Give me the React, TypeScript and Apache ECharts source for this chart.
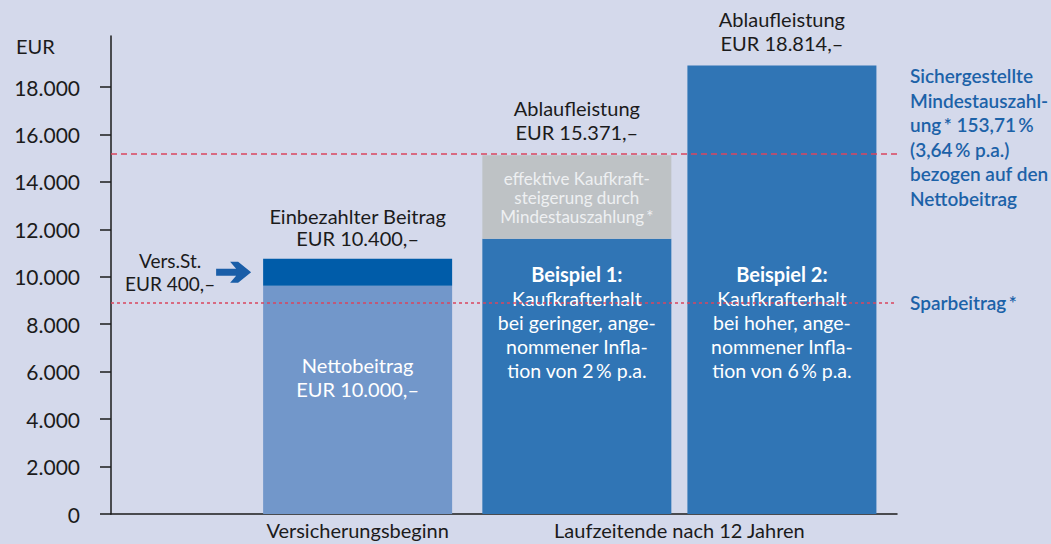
import { useEffect, useRef } from 'react';
import * as echarts from 'echarts';

// ---- data ----
const categories = ['Versicherungsbeginn', 'Laufzeitende nach 12 Jahren'];
const yTicks = [0, 2000, 4000, 6000, 8000, 10000, 12000, 14000, 16000, 18000];
const yMax = 20150;
const nettoBeitrag: (number | string)[] = [9620, '-'];
const versSt: (number | string)[] = [1140, '-'];
const beispiel1Basis: (number | string)[] = ['-', 11600];
const beispiel1Steigerung: (number | string)[] = ['-', 3520];
const beispiel1Top: (number | string)[] = ['-', 0];
const beispiel2: (number | string)[] = ['-', 18910];
const beispiel2Top: (number | string)[] = ['-', 0];
const sparbeitrag = 8910;
const mindestauszahlung = 15170;

const nettoText = ['Nettobeitrag', 'EUR 10.000,–'];
const einbezahltText = ['Einbezahlter Beitrag', 'EUR 10.400,–'];
const versStText = ['Vers.St.', 'EUR 400,–'];
const steigerungText = ['effektive Kaufkraft-', 'steigerung durch', 'Mindestauszahlung\u2009*'];
const ablauf1Text = ['Ablaufleistung', 'EUR 15.371,–'];
const ablauf2Text = ['Ablaufleistung', 'EUR 18.814,–'];
const beispiel1Text = ['Beispiel 1:', 'Kaufkrafterhalt', 'bei geringer, ange-', 'nommener Infla-', 'tion von 2\u2009% p.a.'];
const beispiel2Text = ['Beispiel 2:', 'Kaufkrafterhalt', 'bei hoher, ange-', 'nommener Infla-', 'tion von 6\u2009% p.a.'];
const mindestText = ['Sichergestellte', 'Mindestauszahl-', 'ung\u2009* 153,71\u2009%', '(3,64\u2009% p.a.)', 'bezogen auf den', 'Nettobeitrag'];
const sparText = 'Sparbeitrag\u2009*';

// ---- styles ----
const FONT = 'Lato, "Open Sans", sans-serif';
const BG = '#d4d9eb';
const INK = '#1b1b1b';
const RED = '#d9455f';
const NOTE_BLUE = '#1c62a8';
const LIGHT_BLUE = '#7297ca';
const DARK_BLUE = '#005ca9';
const BAR_BLUE = '#3075b5';
const GREY = '#bec2c5';
const BAR_W = 189;
const TOP = 36;
const BOTTOM = 30;

const fmt = (v: number) => String(v).replace(/\B(?=(\d{3})+(?!\d))/g, '.');

const beispielLabel = (lines: string[]) => ({
  show: true,
  position: 'insideBottom',
  distance: 132,
  formatter: `{b|${lines[0]}}\n` + lines.slice(1).map((l) => `{t|${l}}`).join('\n'),
  rich: {
    b: { fontFamily: FONT, fontSize: 20, fontWeight: 'bold', color: '#ffffff', lineHeight: 24 },
    t: { fontFamily: FONT, fontSize: 19.5, color: '#ffffff', lineHeight: 24 },
  },
});

const topLabel = (lines: string[], lh: number, dist: number) => ({
  show: true,
  position: 'top',
  distance: dist,
  formatter: lines.join('\n'),
  fontFamily: FONT,
  fontSize: 20,
  lineHeight: lh,
  color: INK,
});

const noteStyle = { fontFamily: FONT, fontSize: 19, fontWeight: 600, color: NOTE_BLUE, lineHeight: 24.5 };

export default function App() {
  const ref = useRef<HTMLDivElement>(null);
  useEffect(() => {
    const chart = echarts.init(ref.current!, null, { renderer: 'svg' });
    const option: any = {
      animation: false,
      backgroundColor: BG,
      textStyle: { fontFamily: FONT },
      title: {
        text: 'EUR',
        left: 11,
        top: 31,
        textStyle: { fontFamily: FONT, fontSize: 20, fontWeight: 'normal', color: INK },
      },
      grid: [
        { left: 111, right: 154, top: TOP, bottom: BOTTOM },
        { left: 196.75, right: 210.75, top: TOP, bottom: BOTTOM },
      ],
      xAxis: [
        {
          gridIndex: 0,
          type: 'category',
          data: [''],
          axisLine: { lineStyle: { color: INK, width: 1.5 } },
          axisTick: { show: false },
          axisLabel: { show: false },
        },
        {
          gridIndex: 1,
          type: 'category',
          data: categories,
          axisLine: { show: false },
          axisTick: { show: false },
          axisLabel: { interval: 0, fontFamily: FONT, fontSize: 20, color: INK, margin: 6 },
        },
        { gridIndex: 1, type: 'category', data: categories, show: false },
      ],
      yAxis: [
        {
          gridIndex: 0,
          type: 'value',
          min: 0,
          max: yMax,
          axisLine: { show: true, lineStyle: { color: INK, width: 1.5 } },
          axisTick: { show: true, length: 11, customValues: yTicks, lineStyle: { color: INK, width: 1.5 } },
          axisLabel: { customValues: yTicks, formatter: (v: number) => fmt(v), margin: 31, fontFamily: FONT, fontSize: 21, color: INK },
          splitLine: { show: false },
        },
        { gridIndex: 1, type: 'value', min: 0, max: yMax, show: false },
      ],
      series: [
        {
          type: 'line',
          xAxisIndex: 0,
          yAxisIndex: 0,
          data: [],
          z: 1,
          silent: true,
          markLine: {
            silent: true,
            symbol: ['none', 'none'],
            data: [
              {
                yAxis: sparbeitrag,
                lineStyle: { color: RED, width: 1.5, type: [3, 3] },
                label: { show: true, position: 'end', distance: 13, formatter: sparText, ...noteStyle },
              },
              {
                yAxis: mindestauszahlung,
                lineStyle: { color: RED, width: 1.5, type: [6, 4] },
                label: {
                  show: true,
                  position: 'end',
                  distance: 13,
                  align: 'left',
                  formatter: mindestText.map((l) => `{n|${l}}`).join('\n') + '\n{s| }',
                  rich: {
                    n: noteStyle,
                    s: { fontSize: 10, lineHeight: 34 },
                  },
                },
              },
            ],
          },
        },
        {
          name: 'Nettobeitrag',
          type: 'bar',
          xAxisIndex: 1,
          yAxisIndex: 1,
          stack: 'start',
          barWidth: BAR_W,
          clip: false,
          data: nettoBeitrag,
          itemStyle: { color: LIGHT_BLUE },
          label: { show: true, position: 'insideBottom', distance: 113, formatter: nettoText.join('\n'), color: '#ffffff', fontFamily: FONT, fontSize: 20, lineHeight: 24 },
        },
        {
          name: 'Vers.St.',
          type: 'bar',
          xAxisIndex: 1,
          yAxisIndex: 1,
          stack: 'start',
          barWidth: BAR_W,
          clip: false,
          data: versSt,
          itemStyle: { color: DARK_BLUE },
          label: topLabel(einbezahltText, 22, 10),
          markPoint: {
            silent: true,
            symbol: 'path://M0,7L20,7L14,0L22,0L35,10.5L22,21L14,21L20,14L0,14Z',
            symbolSize: [35, 21],
            symbolOffset: [-124, 0],
            itemStyle: { color: '#1a5ea8' },
            label: {
              show: true,
              position: 'left',
              distance: 46,
              align: 'center',
              formatter: versStText.join('\n'),
              color: INK,
              fontFamily: FONT,
              fontSize: 19,
              lineHeight: 23,
            },
            data: [{ coord: [0, (nettoBeitrag[0] as number) + (versSt[0] as number) / 2] }],
          },
        },
        {
          name: 'Beispiel 1',
          type: 'bar',
          xAxisIndex: 2,
          yAxisIndex: 1,
          stack: 'b1',
          barWidth: BAR_W,
          barGap: '8.5%',
          clip: false,
          data: beispiel1Basis,
          itemStyle: { color: BAR_BLUE },
          label: beispielLabel(beispiel1Text),
        },
        {
          name: 'Kaufkraftsteigerung',
          type: 'bar',
          xAxisIndex: 2,
          yAxisIndex: 1,
          stack: 'b1',
          barWidth: BAR_W,
          barGap: '8.5%',
          clip: false,
          data: beispiel1Steigerung,
          itemStyle: { color: GREY },
          label: { show: true, position: 'inside', formatter: steigerungText.join('\n'), color: '#eef0f2', fontFamily: FONT, fontSize: 17, lineHeight: 19 },
        },
        {
          name: 'Ablaufleistung 1',
          type: 'bar',
          xAxisIndex: 2,
          yAxisIndex: 1,
          stack: 'b1',
          barWidth: BAR_W,
          barGap: '8.5%',
          clip: false,
          data: beispiel1Top,
          itemStyle: { color: GREY },
          label: topLabel(ablauf1Text, 24, 11),
        },
        {
          name: 'Beispiel 2',
          type: 'bar',
          xAxisIndex: 2,
          yAxisIndex: 1,
          stack: 'b2',
          barWidth: BAR_W,
          barGap: '8.5%',
          clip: false,
          data: beispiel2,
          itemStyle: { color: BAR_BLUE },
          label: beispielLabel(beispiel2Text),
        },
        {
          name: 'Ablaufleistung 2',
          type: 'bar',
          xAxisIndex: 2,
          yAxisIndex: 1,
          stack: 'b2',
          barWidth: BAR_W,
          barGap: '8.5%',
          clip: false,
          data: beispiel2Top,
          itemStyle: { color: BAR_BLUE },
          label: topLabel(ablauf2Text, 24, 10),
        },
      ],
    };
    chart.setOption(option);
    return () => chart.dispose();
  }, []);
  return <div ref={ref} style={{ position: 'fixed', left: 0, top: 0, width: 1051, height: 544 }} />;
}
